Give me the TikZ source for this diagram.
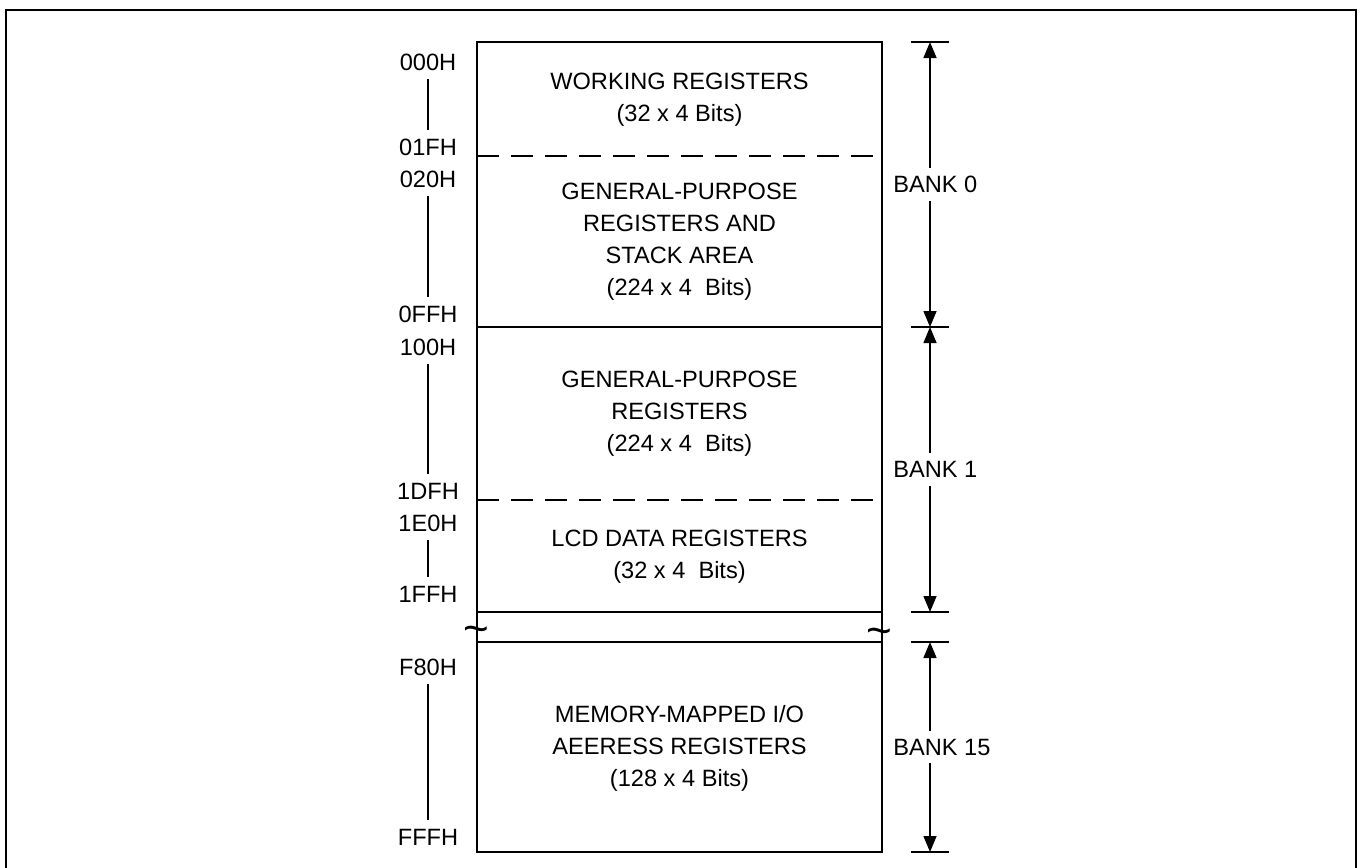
\documentclass[tikz,border=0pt]{standalone}
\usepackage{fontspec}
\setmainfont{Liberation Sans}
\usepackage{tikz}
\usetikzlibrary{arrows.meta}
\usetikzlibrary{shapes,arrows,positioning}
\tikzset{map-line/.style={line width=0.75pt}}
\tikzset{map-dash/.style={line width=0.75pt, dash pattern=on 11pt off 6pt}}
\tikzset{frame-line/.style={line width=1pt}}
\tikzset{addr-line/.style={line width=1pt}}
\tikzset{>={Triangle[length=8pt, width=6.5pt]}}
\tikzset{addr-label/.style={inner sep=4pt, font=\fontsize{11.8}{16}\selectfont}}
\tikzset{region-text/.style={align=center, inner sep=0, font=\fontsize{11.8}{16}\selectfont}}
\tikzset{bank-label/.style={anchor=west, fill=white, inner sep=4pt, font=\fontsize{11.8}{16}\selectfont}}
\tikzset{break-mark/.style={inner sep=0, font=\fontsize{22}{22}\selectfont}}

\begin{document}
\begin{tikzpicture}[x=0.5pt, y=-0.5pt]
            \useasboundingbox (0,0) rectangle (1361,868);
            \draw[frame-line] (6,868) -- (6,10) -- (1356,10) -- (1356,868);

            % memory map
            \draw[map-line] (477,42) -- (882,42) -- (882,852) -- (477,852) -- cycle;
            \foreach \y in {327,612,642}
                \draw[map-line] (477,\y) -- (882,\y);
            \foreach \y in {156,500}
                \draw[map-dash] (477,\y) -- (882,\y);

            \node[break-mark] (break1) at (476,635) {\textasciitilde};
            \node[break-mark] (break2) at (879,637) {\textasciitilde};

            \node[region-text] (region1) at (679.5,100) {WORKING REGISTERS\\(32 x 4 Bits)};
            \node[region-text] (region2) at (679.5,242) {GENERAL-PURPOSE\\REGISTERS AND\\STACK AREA\\(224 x 4\ \ Bits)};
            \node[region-text] (region3) at (679.5,414) {GENERAL-PURPOSE\\REGISTERS\\(224 x 4\ \ Bits)};
            \node[region-text] (region4) at (679.5,557) {LCD DATA REGISTERS\\(32 x 4\ \ Bits)};
            \node[region-text] (region5) at (679.5,748) {MEMORY-MAPPED I/O\\AEERESS REGISTERS\\(128 x 4 Bits)};

            % addresses
            \node[addr-label] (addr1) at (428,62) {000H};
            \node[addr-label] (addr2) at (428,147) {01FH};
            \node[addr-label] (addr3) at (428,179) {020H};
            \node[addr-label] (addr4) at (428,314) {0FFH};
            \node[addr-label] (addr5) at (428,347) {100H};
            \node[addr-label] (addr6) at (428,491) {1DFH};
            \node[addr-label] (addr7) at (428,523) {1E0H};
            \node[addr-label] (addr8) at (428,594) {1FFH};
            \node[addr-label] (addr9) at (428,667) {F80H};
            \node[addr-label] (addr10) at (428,837) {FFFH};

            \draw[addr-line] (addr1) -- (addr2);
            \draw[addr-line] (addr3) -- (addr4);
            \draw[addr-line] (addr5) -- (addr6);
            \draw[addr-line] (addr7) -- (addr8);
            \draw[addr-line] (addr9) -- (addr10);

            % banks
            \coordinate (tick1) at (930,42);
            \coordinate (tick2) at (930,327);
            \coordinate (tick3) at (930,612);
            \coordinate (tick4) at (930,642);
            \coordinate (tick5) at (930,852);
            \foreach \t in {tick1,tick2,tick3,tick4,tick5}
                \draw[map-line] ([xshift=-9.5pt]\t) -- ([xshift=9.5pt]\t);

            \draw[<->, map-line] (tick1) -- (tick2);
            \draw[<->, map-line] (tick2) -- (tick3);
            \draw[<->, map-line] (tick4) -- (tick5);

            \node[bank-label] (bank0) at (885,184.5) {BANK 0};
            \node[bank-label] (bank1) at (885,469.5) {BANK 1};
            \node[bank-label] (bank15) at (885,747) {BANK 15};

        \end{tikzpicture}
\end{document}
